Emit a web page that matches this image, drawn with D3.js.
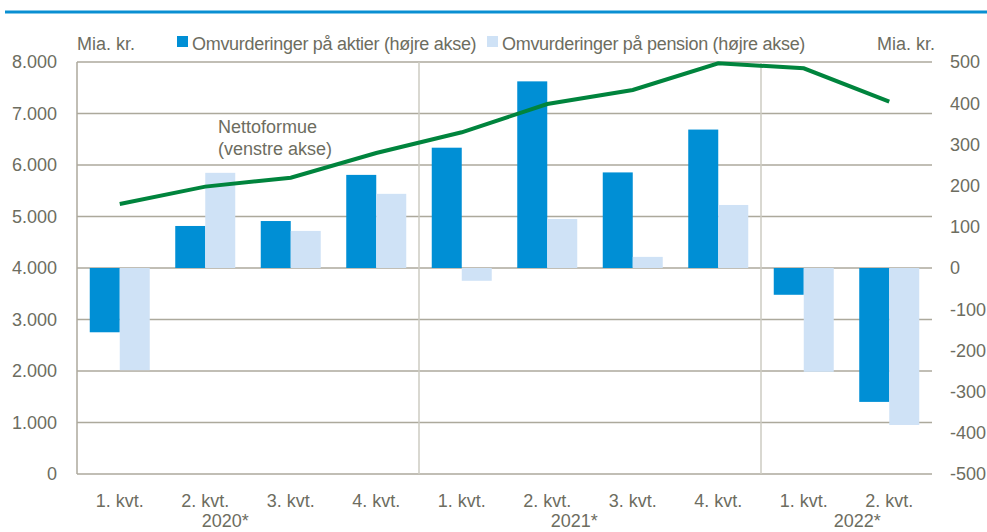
<!DOCTYPE html>
<html>
<head>
<meta charset="utf-8">
<script src="https://cdn.jsdelivr.net/npm/d3@7"></script>
<style>
  body { margin: 0; background: #fff; }
  svg text { font-family: "Liberation Sans", Arial, sans-serif; fill: #6d6d5f; }
</style>
</head>
<body>
<div id="chart"></div>
<script>
// quarters and the year groups under them
const quarters = ["1. kvt.", "2. kvt.", "3. kvt.", "4. kvt.", "1. kvt.", "2. kvt.", "3. kvt.", "4. kvt.", "1. kvt.", "2. kvt."];
const years = ["2020*", "2021*", "2022*"];
const yearAnchor = [1, 5, 9];          // quarter index the year label sits under
const yearShift = [20, 27, -32];
const groupBreaks = [4, 8];

// right axis, bn. kr.
const aktier = [-156, 102, 114, 226, 292, 453, 232, 336, -65, -325];
const pension = [-248, 231, 90, 180, -31, 119, 27, 153, -252, -381];
// left axis, bn. kr.
const nettoformue = [5243, 5580, 5754, 6233, 6635, 7184, 7456, 7975, 7878, 7230];

const leftTicks = [0, 1000, 2000, 3000, 4000, 5000, 6000, 7000, 8000];
const rightTicks = [-500, -400, -300, -200, -100, 0, 100, 200, 300, 400, 500];

const width = 987, height = 532;
const margin = { top: 62, right: 55, bottom: 58, left: 77 };
const fmt = d3.formatLocale({ decimal: ",", thousands: ".", grouping: [3], currency: ["", " kr."] }).format(",d");

const svg = d3.select("#chart").append("svg")
    .attr("width", width)
    .attr("height", height);

// blue rule at the top
svg.append("line")
    .attr("x1", 5).attr("x2", width)
    .attr("y1", 12).attr("y2", 12)
    .attr("stroke", "#0a8fd2").attr("stroke-width", 3);

const x = d3.scaleBand().domain(d3.range(quarters.length))
    .range([margin.left, width - margin.right]);
const yL = d3.scaleLinear().domain([0, 8000]).range([height - margin.bottom, margin.top]);
const yR = d3.scaleLinear().domain([-500, 500]).range([height - margin.bottom, margin.top]);

const barW = 30;

// gridlines
svg.append("g").selectAll("line").data(leftTicks).enter().append("line")
    .attr("x1", margin.left).attr("x2", width - margin.right)
    .attr("y1", d => yL(d)).attr("y2", d => yL(d))
    .attr("stroke", "#aca99c").attr("stroke-width", 1.5);

svg.append("g").selectAll("line").data(groupBreaks).enter().append("line")
    .attr("x1", d => x(d)).attr("x2", d => x(d))
    .attr("y1", margin.top).attr("y2", height - margin.bottom)
    .attr("stroke", "#cdcbc2").attr("stroke-width", 1.5);

svg.append("line")
    .attr("x1", margin.left).attr("x2", margin.left)
    .attr("y1", margin.top).attr("y2", height - margin.bottom)
    .attr("stroke", "#aca99c").attr("stroke-width", 1.5);

// bars
const cx = i => x(i) + x.bandwidth() / 2;
svg.append("g").selectAll("rect").data(aktier).enter().append("rect")
    .attr("x", (d, i) => cx(i) - barW)
    .attr("width", barW)
    .attr("y", d => yR(Math.max(0, d)))
    .attr("height", d => Math.abs(yR(d) - yR(0)))
    .attr("fill", "#008fd5");

svg.append("g").selectAll("rect").data(pension).enter().append("rect")
    .attr("x", (d, i) => cx(i))
    .attr("width", barW)
    .attr("y", d => yR(Math.max(0, d)))
    .attr("height", d => Math.abs(yR(d) - yR(0)))
    .attr("fill", "#cfe2f6");

// line
svg.append("path")
    .datum(nettoformue)
    .attr("fill", "none")
    .attr("stroke", "#00843d")
    .attr("stroke-width", 4)
    .attr("d", d3.line().x((d, i) => cx(i)).y(d => yL(d)));

// axes labels
svg.append("g").selectAll("text").data(leftTicks).enter().append("text")
    .attr("x", 57).attr("y", d => yL(d)).attr("dy", "0.35em")
    .attr("text-anchor", "end").attr("font-size", 18)
    .text(d => fmt(d));

svg.append("g").selectAll("text").data(rightTicks).enter().append("text")
    .attr("x", 950).attr("y", d => yR(d)).attr("dy", "0.35em")
    .attr("font-size", 18)
    .text(d => d);

svg.append("g").selectAll("text").data(quarters).enter().append("text")
    .attr("x", (d, i) => cx(i)).attr("y", 507)
    .attr("text-anchor", "middle").attr("font-size", 18)
    .text(d => d);

svg.append("g").selectAll("text").data(years).enter().append("text")
    .attr("x", (d, i) => cx(yearAnchor[i]) + yearShift[i]).attr("y", 527)
    .attr("text-anchor", "middle").attr("font-size", 18)
    .text(d => d);

svg.append("text").attr("x", 77).attr("y", 50).attr("font-size", 18).text("Mia. kr.");
svg.append("text").attr("x", 935).attr("y", 50).attr("text-anchor", "end").attr("font-size", 18).text("Mia. kr.");

// legend
const legend = [
    { label: "Omvurderinger på aktier (højre akse)", color: "#008fd5", x: 177 },
    { label: "Omvurderinger på pension (højre akse)", color: "#cfe2f6", x: 487 }
];
const lg = svg.append("g").selectAll("g").data(legend).enter().append("g")
    .attr("transform", d => `translate(${d.x},36)`);
lg.append("rect").attr("width", 11).attr("height", 11).attr("fill", d => d.color);
lg.append("text").attr("x", 15).attr("y", 14).attr("font-size", 18)
    .attr("letter-spacing", "-0.3px").text(d => d.label);

// line annotation
const note = svg.append("text").attr("x", 218).attr("font-size", 18);
note.append("tspan").attr("x", 218).attr("y", 133).text("Nettoformue");
note.append("tspan").attr("x", 218).attr("y", 155).text("(venstre akse)");
</script>
</body>
</html>
